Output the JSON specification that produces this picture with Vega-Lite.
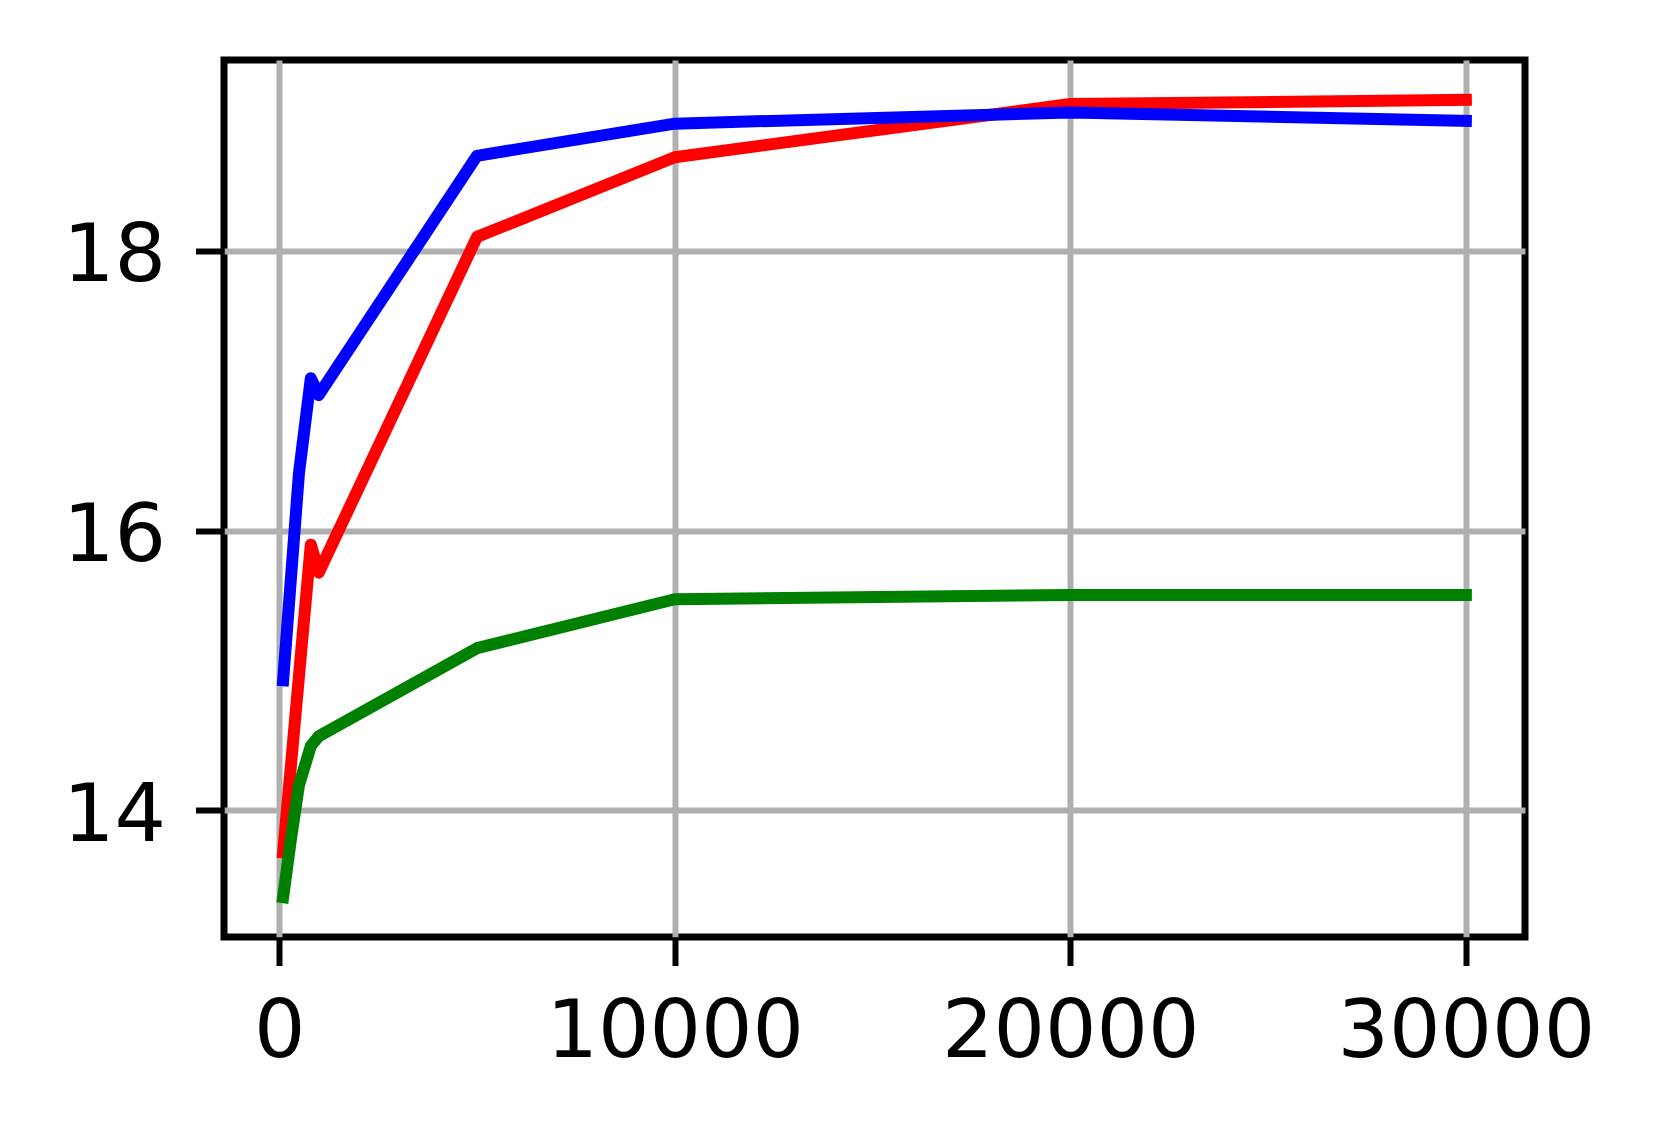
{
  "$schema": "https://vega.github.io/schema/vega-lite/v6.json",
  "autosize": {"type": "none"},
  "padding": {"left": 224, "top": 60, "right": 134, "bottom": 201},
  "width": 1301,
  "height": 877,
  "background": "white",
  "config": {
    "view": {"stroke": "black", "strokeWidth": 7},
    "axis": {
      "domain": false,
      "grid": true,
      "gridColor": "#b0b0b0",
      "gridWidth": 6,
      "ticks": true,
      "tickColor": "black",
      "tickWidth": 6,
      "tickSize": 28.5,
      "labelFont": "DejaVu Sans",
      "labelFontSize": 81,
      "labelColor": "black",
      "labelLimit": 0,
      "labelOverlap": false,
      "title": null
    }
  },
  "data": {
    "values": [
      {"s": "red", "x": 100, "y": 13.70},
      {"s": "red", "x": 500, "y": 14.96},
      {"s": "red", "x": 800, "y": 15.90},
      {"s": "red", "x": 1000, "y": 15.70},
      {"s": "red", "x": 5000, "y": 18.10},
      {"s": "red", "x": 10000, "y": 18.67},
      {"s": "red", "x": 20000, "y": 19.05},
      {"s": "red", "x": 30000, "y": 19.08},
      {"s": "blue", "x": 100, "y": 14.93},
      {"s": "blue", "x": 500, "y": 16.41},
      {"s": "blue", "x": 800, "y": 17.09},
      {"s": "blue", "x": 1000, "y": 16.97},
      {"s": "blue", "x": 5000, "y": 18.68},
      {"s": "blue", "x": 10000, "y": 18.91},
      {"s": "blue", "x": 20000, "y": 18.99},
      {"s": "blue", "x": 30000, "y": 18.93},
      {"s": "green", "x": 100, "y": 13.38},
      {"s": "green", "x": 300, "y": 13.80},
      {"s": "green", "x": 500, "y": 14.18},
      {"s": "green", "x": 800, "y": 14.46},
      {"s": "green", "x": 1000, "y": 14.53},
      {"s": "green", "x": 5000, "y": 15.16},
      {"s": "green", "x": 10000, "y": 15.51},
      {"s": "green", "x": 20000, "y": 15.54},
      {"s": "green", "x": 30000, "y": 15.54}
    ]
  },
  "encoding": {
    "x": {
      "field": "x", "type": "quantitative",
      "scale": {"domain": [-1395, 31495], "nice": false, "zero": false},
      "axis": {"values": [0, 10000, 20000, 30000], "format": "d", "labelPadding": 27}
    },
    "y": {
      "field": "y", "type": "quantitative",
      "scale": {"domain": [13.095, 19.365], "nice": false, "zero": false},
      "axis": {"values": [14, 16, 18], "format": "d", "labelPadding": 30, "labelOffset": 6}
    }
  },
  "layer": [
    {
      "transform": [{"filter": "datum.s === 'red'"}],
      "mark": {"type": "line", "color": "#ff0000", "strokeWidth": 12, "strokeCap": "square", "strokeJoin": "round"}
    },
    {
      "transform": [{"filter": "datum.s === 'blue'"}],
      "mark": {"type": "line", "color": "#0000ff", "strokeWidth": 12, "strokeCap": "square", "strokeJoin": "round"}
    },
    {
      "transform": [{"filter": "datum.s === 'green'"}],
      "mark": {"type": "line", "color": "#008000", "strokeWidth": 12, "strokeCap": "square", "strokeJoin": "round"}
    }
  ]
}
